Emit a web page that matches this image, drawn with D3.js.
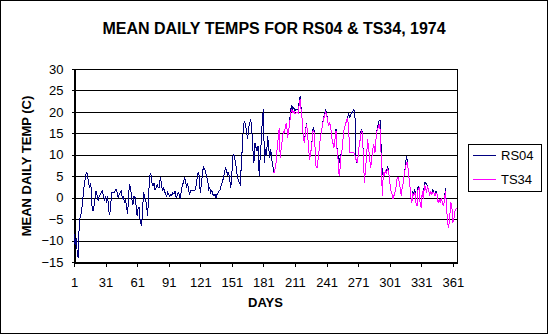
<!DOCTYPE html>
<html><head><meta charset="utf-8">
<script src="https://cdn.jsdelivr.net/npm/d3@7"></script>
<style>
body{margin:0;background:#fff}
svg{display:block}
text{font-family:"Liberation Sans",Arial,sans-serif;fill:#000}
</style>
</head><body>
<svg id="c" width="550" height="336"></svg>
<script>
const title = "MEAN DAILY TEMPS FOR RS04 & TS34, 1974";
const xTitle = "DAYS";
const yTitle = "MEAN DAILY TEMP (C)";
const seriesNames = ["RS04", "TS34"];
const seriesColors = ["#000080", "#FF00FF"];
const xTicks = [1,31,61,91,121,151,181,211,241,271,301,331,361];
const yTicks = [-15,-10,-5,0,5,10,15,20,25,30];
const firstDay = 1, lastDay = 365;
const ts34FirstDay = 191;

// RS04: days 1..365
const rs04 = [
-8.4,-11.0,-9.5,-12.5,-14.0,-6.0,-4.3,-3.5,-1.5,1.5,
3.5,5.0,6.0,5.0,3.1,2.3,3.5,-1.9,-3.1,-1.9,
0.0,1.6,0.4,-0.8,0.4,0.8,1.2,1.6,0.4,-0.4,
0.4,-1.2,0.4,-3.1,-3.9,-1.2,1.2,1.3,1.2,1.6,
1.9,1.2,0.0,0.8,1.2,1.6,-0.4,0.4,-1.2,-0.4,
-2.3,-3.9,1.2,3.1,1.6,-0.4,-1.6,0.4,0.0,-1.9,
-4.3,-2.4,-2.3,-5.8,-6.2,-4.3,1.2,0.4,-0.4,-1.9,
-4.3,1.2,5.0,5.8,3.5,2.7,3.5,1.9,2.3,3.1,
2.3,2.3,4.7,3.5,1.6,2.3,1.6,0.8,0.4,1.2,
0.8,0.4,0.8,0.4,1.2,0.8,1.6,0.0,0.4,1.2,
0.8,-0.4,1.6,3.0,3.5,4.7,3.9,2.3,3.5,1.6,
0.8,1.6,1.7,1.6,1.6,1.7,2.7,4.5,6.0,5.2,
1.2,3.1,5.4,7.3,6.6,6.2,4.7,4.3,1.9,2.3,
1.2,1.6,0.8,0.4,0.8,0.0,0.8,1.2,1.6,1.9,
3.1,3.5,4.7,5.8,6.9,6.2,5.4,5.8,4.3,2.3,
5.4,9.7,10.1,8.9,7.4,5.4,4.3,3.5,3.1,7.5,
12.0,16.7,17.9,17.1,15.2,13.6,16.3,17.5,18.3,15.5,
11.3,8.2,12.8,11.7,10.9,12.1,5.1,9.7,13.2,18.3,
20.7,8.2,11.3,9.7,14.4,11.7,9.3,11.3,8.9,7.4,
5.8,6.6,8.2,11.3,13.6,16.3,9.3,11.7,13.6,15.5,
15.2,16.7,17.5,14.0,15.5,17.9,20.6,21.4,20.6,21.0,
20.2,20.6,20.7,20.4,22.3,23.7,20.2,17.9,13.6,12.8,
15.5,17.5,15.0,11.3,8.9,10.5,12.4,15.9,16.3,12.1,
7.4,7.0,8.9,11.3,13.6,15.2,16.7,18.6,19.4,20.6,
19.8,17.9,16.7,17.5,16.3,14.0,12.8,11.7,13.6,16.0,
11.3,9.5,8.0,9.5,10.5,11.3,14.8,16.3,17.1,17.9,
18.6,19.8,18.6,19.4,19.8,20.2,20.6,19.4,8.9,8.2,
9.7,12.1,13.6,16.0,15.2,9.7,3.5,6.6,9.3,13.6,
11.7,8.9,7.0,9.3,11.3,12.4,10.5,13.6,15.9,17.1,
17.9,17.9,10.9,5.4,5.8,5.4,6.2,5.8,7.4,6.2,
4.0,1.6,1.2,-0.4,0.4,1.2,2.3,4.3,4.7,3.9,
2.3,0.4,2.7,3.5,5.8,7.4,9.8,8.2,5.4,3.5,
0.4,-1.2,1.6,0.4,1.9,-1.2,-1.9,2.7,2.3,-1.6,
-2.3,1.5,-0.4,3.5,3.5,3.1,2.7,1.9,0.4,1.6,
0.8,1.9,1.2,0.4,1.6,0.8,-1.2,-0.4,-1.2,0.0,
-1.0,-1.9,-0.8,2.3,-1.9,-5.8,-7.0,-5.1,-1.2,-1.5,
-5.8,-5.1,-3.1,-2.7,-2.5
];

// TS34: days 191..365
const ts34 = [
5.8,6.6,8.2,11.3,13.6,16.3,9.3,11.7,13.6,15.5,
15.2,16.7,17.5,14.0,15.5,17.4,19.8,20.6,19.8,20.2,
19.5,19.8,20.0,19.8,21.6,23.0,20.0,17.9,13.6,12.8,
15.1,17.2,15.0,11.3,8.9,10.5,12.4,15.4,15.8,12.1,
7.4,7.0,8.9,11.3,13.6,15.2,16.7,18.2,19.0,20.0,
19.4,17.9,16.7,17.5,16.3,14.0,12.8,11.7,13.6,15.6,
11.3,8.9,5.0,7.0,10.5,11.3,14.8,16.3,17.1,17.9,
18.6,16.3,10.5,10.5,10.5,10.5,10.5,9.7,8.9,8.2,
9.7,12.1,13.6,15.6,15.2,9.7,3.5,6.6,9.3,13.6,
11.7,8.9,7.0,9.3,11.3,12.4,10.5,13.6,15.5,16.3,
17.1,15.9,9.0,0.4,5.8,5.4,6.2,5.8,6.6,6.2,
4.0,1.6,1.2,-0.4,0.4,1.2,2.3,4.3,4.7,3.9,
2.3,0.4,2.7,3.5,5.8,7.0,8.2,8.2,5.4,3.5,
0.4,-1.2,1.0,0.4,1.2,-1.2,-1.9,2.0,2.3,-1.6,
-2.3,1.5,-0.4,2.8,2.7,1.2,2.7,1.9,0.4,1.6,
0.8,1.3,1.2,0.4,1.0,0.8,-1.2,-0.4,-1.2,0.0,
-1.0,-1.9,-0.8,1.6,-1.9,-5.8,-7.0,-5.1,-1.2,-1.5,
-5.8,-5.1,-3.1,-2.7,-2.5
];

const svg = d3.select("#c");
const plot = {left: 74, right: 457, top: 69, bottom: 262};

const x = d3.scaleLinear().domain([firstDay, lastDay]).range([plot.left, plot.right]);
const y = d3.scaleLinear().domain([-15, 30]).range([plot.bottom, plot.top]);
const snap = v => Math.round(v) + 0.5;

// outer frame
svg.append("rect").attr("x", 0.5).attr("y", 0.5).attr("width", 547).attr("height", 333)
  .attr("fill", "#fff").attr("stroke", "#000");

// title
svg.append("text").attr("x", 274).attr("y", 34).attr("text-anchor", "middle")
  .style("font-size", "16px").style("font-weight", "bold").text(title);

// gridlines
svg.append("g").selectAll("line").data(yTicks.filter(t => t > -15 && t < 30)).join("line")
  .attr("x1", plot.left).attr("x2", plot.right)
  .attr("y1", d => snap(y(d))).attr("y2", d => snap(y(d)))
  .attr("stroke", "#000").attr("shape-rendering", "crispEdges");

// plot border
svg.append("rect").attr("x", snap(plot.left)).attr("y", snap(plot.top))
  .attr("width", Math.round(plot.right) - Math.round(plot.left))
  .attr("height", Math.round(plot.bottom) - Math.round(plot.top))
  .attr("fill", "none").attr("stroke", "#000").attr("shape-rendering", "crispEdges");

// axes
const yAxis = d3.axisLeft(y).tickValues(yTicks).tickSize(3).tickPadding(8).tickSizeOuter(0);
const gy = svg.append("g").attr("transform", `translate(${snap(plot.left)},0)`).call(yAxis);
const xAxis = d3.axisBottom(x).tickValues(xTicks).tickSize(4).tickPadding(11).tickSizeOuter(0);
const gx = svg.append("g").attr("transform", `translate(0,${snap(plot.bottom)})`).call(xAxis);
[gx, gy].forEach(g => {
  g.select(".domain").attr("stroke", "#000").attr("shape-rendering", "crispEdges");
  g.selectAll(".tick line").attr("stroke", "#000").attr("shape-rendering", "crispEdges");
  g.selectAll(".tick text").style("font-size", "13px").style("font-family", '"Liberation Sans",Arial,sans-serif').attr("fill", "#000");
});

// axis titles
svg.append("text").attr("x", (plot.left + plot.right) / 2).attr("y", 307).attr("text-anchor", "middle")
  .style("font-size", "13px").style("font-weight", "bold").text(xTitle);
svg.append("text").attr("transform", "translate(31,166) rotate(-90)").attr("text-anchor", "middle")
  .style("font-size", "13px").style("font-weight", "bold").text(yTitle);

// series
const line = d3.line().defined(d => d.v != null).x(d => x(d.day)).y(d => y(d.v));
const rsData = rs04.map((v, i) => ({day: firstDay + i, v}));
const tsData = ts34.map((v, i) => ({day: ts34FirstDay + i, v}));
[rsData, tsData].forEach((data, i) => {
  svg.append("path").datum(data).attr("d", line).attr("fill", "none")
    .attr("stroke", seriesColors[i]).attr("stroke-width", 1)
    .attr("shape-rendering", "crispEdges");
});

// legend
const lg = svg.append("g");
lg.append("rect").attr("x", 468.5).attr("y", 144.5).attr("width", 73).attr("height", 47)
  .attr("fill", "#fff").attr("stroke", "#000").attr("shape-rendering", "crispEdges");
seriesNames.forEach((name, i) => {
  const yy = 155.5 + i * 24;
  lg.append("line").attr("x1", 473).attr("x2", 496).attr("y1", yy).attr("y2", yy)
    .attr("stroke", seriesColors[i]).attr("stroke-width", 1).attr("shape-rendering", "crispEdges");
  lg.append("text").attr("x", 501).attr("y", yy + 4.5).style("font-size", "13px").text(name);
});
</script>
</body></html>
